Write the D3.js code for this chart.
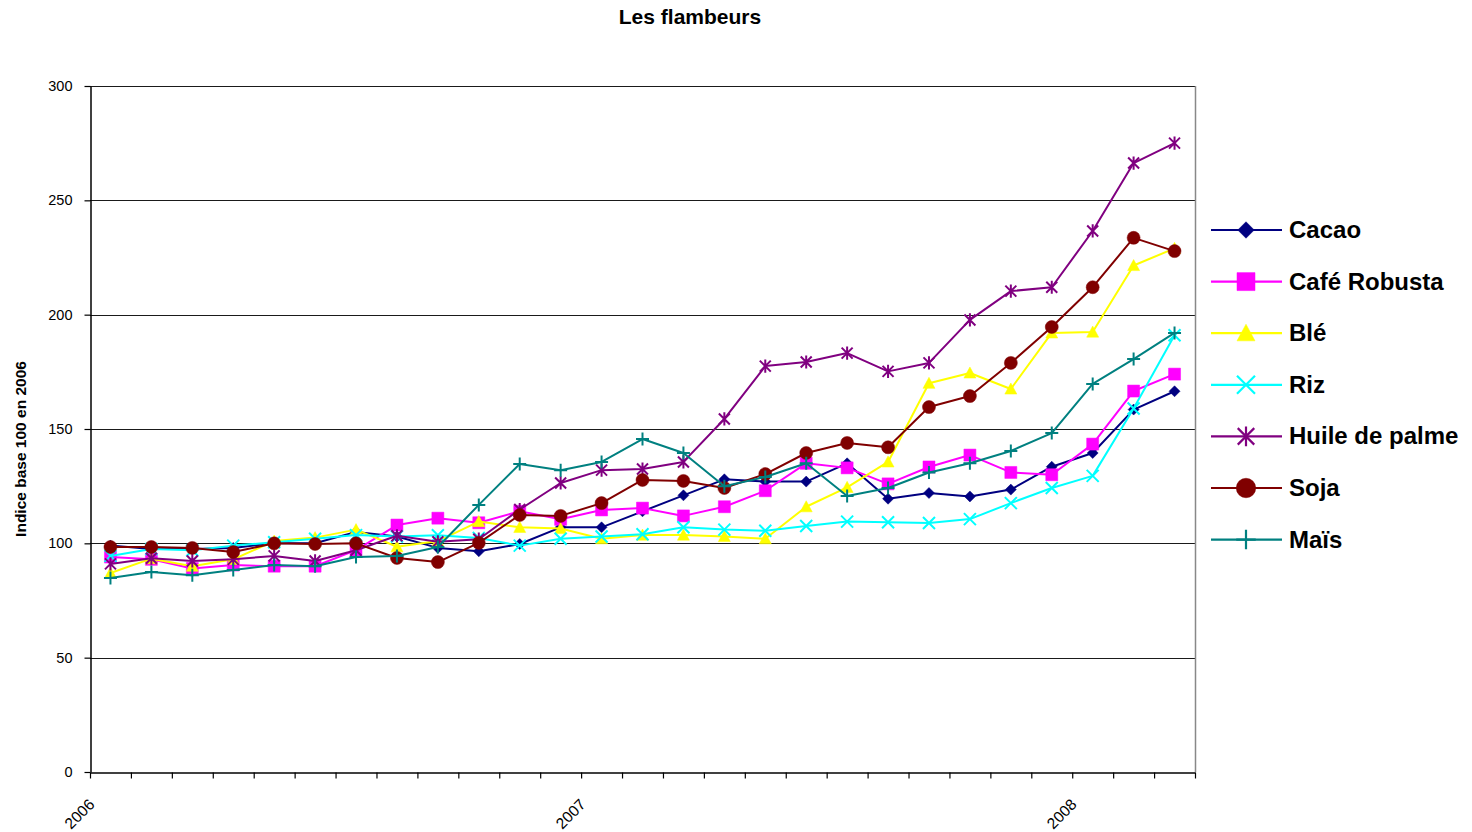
<!DOCTYPE html>
<html>
<head>
<meta charset="utf-8">
<script src="https://cdn.jsdelivr.net/npm/d3@7"></script>
<style>
  html, body { margin: 0; padding: 0; background: #fff; }
  svg { display: block; font-family: "Liberation Sans", Arial, sans-serif; }
</style>
</head>
<body>
<svg id="chart" width="1472" height="832"></svg>
<script>
// Monthly categories, January 2006 to March 2008
const months = [
  "2006-01","2006-02","2006-03","2006-04","2006-05","2006-06","2006-07","2006-08","2006-09","2006-10","2006-11","2006-12",
  "2007-01","2007-02","2007-03","2007-04","2007-05","2007-06","2007-07","2007-08","2007-09","2007-10","2007-11","2007-12",
  "2008-01","2008-02","2008-03"
];
const yearLabels = { 0: "2006", 12: "2007", 24: "2008" };
const yTicks = [0, 50, 100, 150, 200, 250, 300];

// Price index per commodity, base 100 in 2006
const cacao = [99, 97.5, 97.5, 98, 100, 100, 105, 103, 98, 96.5, 99.7, 107, 107, 114, 121, 128, 127, 127, 135, 119.5, 122, 120.5, 123.5, 133.5, 139.5, 158.5, 166.5];
const cafeRobusta = [94, 93, 89, 90.5, 90, 90, 97, 108, 111, 109, 114, 110.5, 114.6, 115.4, 112, 116, 123, 135, 133, 126, 133.4, 138.6, 131, 130, 143.4, 166.6, 174];
const ble = [87, 93.3, 90, 93, 101, 102.5, 106, 98.5, 101, 109.5, 107, 106.5, 102, 103.6, 103.6, 103, 102, 116, 124.5, 135.6, 170, 174.5, 167.5, 192, 192.4, 221.5, 229];
const riz = [94.5, 97.5, 97, 99, 100.5, 102, 103.6, 103, 103.5, 102.3, 99, 102, 103, 104, 107, 106, 105.5, 107.6, 109.5, 109.2, 108.9, 110.6, 117.6, 124.2, 129.5, 159, 191];
const huileDePalme = [91, 93.5, 92.3, 93, 94.5, 92.3, 97, 103.3, 100.7, 101.8, 114.8, 126.4, 132, 132.5, 135.6, 154.4, 177.5, 179.3, 183.2, 175.2, 178.9, 197.7, 210.3, 212, 236.6, 266.3, 275];
const soja = [98.4, 98.4, 98, 96.2, 100, 99.7, 100, 93.6, 91.8, 100.2, 112.4, 112, 117.6, 127.7, 127.3, 124.2, 130.3, 139.5, 143.9, 142, 159.6, 164.4, 178.9, 194.6, 212, 233.6, 227.8];
const mais = [84.8, 87.5, 86, 88.3, 90.5, 90, 94, 94.5, 98.4, 116.8, 134.7, 132, 135.6, 145.6, 139.5, 125, 129, 135, 120.7, 124.2, 131, 135, 140.4, 148.2, 169.7, 180.6, 192];

const seriesNames = ["Cacao", "Café Robusta", "Blé", "Riz", "Huile de palme", "Soja", "Maïs"];
const seriesValues = [cacao, cafeRobusta, ble, riz, huileDePalme, soja, mais];
const seriesColors = ["#000080", "#ff00ff", "#ffff00", "#00ffff", "#800080", "#800000", "#008080"];
const seriesMarkers = ["diamond", "square", "triangle", "cross", "star", "circle", "plus"];

const svg = d3.select("#chart");
const plot = { left: 90, right: 1195, top: 86, bottom: 772 };

// x: category boundaries on a linear index scale; points sit mid-category
const xb = d3.scaleLinear().domain([0, months.length]).range([plot.left, plot.right]);
const xc = i => xb(i + 0.5);
const y = d3.scaleLinear().domain([0, 300]).range([plot.bottom, plot.top]);

// horizontal gridlines
svg.append("g")
  .selectAll("line")
  .data(yTicks.filter(v => v > 0))
  .join("line")
  .attr("x1", plot.left).attr("x2", plot.right)
  .attr("y1", d => Math.round(y(d)) + 0.5).attr("y2", d => Math.round(y(d)) + 0.5)
  .attr("stroke", "#1a1a1a").attr("stroke-width", 1);

// right border of plot area
svg.append("line")
  .attr("x1", plot.right + 0.5).attr("x2", plot.right + 0.5)
  .attr("y1", plot.top).attr("y2", plot.bottom)
  .attr("stroke", "#888").attr("stroke-width", 1.5);

// y axis
const yAxis = svg.append("g")
  .attr("transform", `translate(${plot.left + 0.5},0)`)
  .call(d3.axisLeft(y).tickValues(yTicks).tickSize(6).tickPadding(12).tickSizeOuter(0));
yAxis.select(".domain").attr("stroke", "#000").attr("stroke-width", 1.5);
yAxis.selectAll(".tick line").attr("stroke", "#000").attr("stroke-width", 1.2);
yAxis.selectAll(".tick text").attr("font-size", 14.5).attr("fill", "#000")
  .attr("font-family", "Liberation Sans, Arial, sans-serif");

// x axis with tick marks at category boundaries
const xAxis = svg.append("g")
  .attr("transform", `translate(0,${plot.bottom + 0.5})`)
  .call(d3.axisBottom(xb).tickValues(d3.range(months.length + 1))
    .tickSize(6).tickSizeOuter(0).tickFormat(i => yearLabels[i] || ""));
xAxis.select(".domain").attr("stroke", "#000").attr("stroke-width", 1.5);
xAxis.selectAll(".tick line").attr("stroke", "#000").attr("stroke-width", 1.2);
xAxis.selectAll(".tick text")
  .attr("font-size", 15.5).attr("fill", "#000")
  .attr("font-family", "Liberation Sans, Arial, sans-serif")
  .attr("text-anchor", "end")
  .attr("dy", null).attr("y", null)
  .attr("transform", "translate(5,33) rotate(-45)");

// marker shapes
function markerPath(type, s) {
  const h = s / 2;
  switch (type) {
    case "diamond": return `M0,${-h}L${h},0L0,${h}L${-h},0Z`;
    case "square": return `M${-h},${-h}H${h}V${h}H${-h}Z`;
    case "triangle": return `M0,${-h}L${h},${h * 0.85}L${-h},${h * 0.85}Z`;
    case "circle": return d3.arc()({ innerRadius: 0, outerRadius: h, startAngle: 0, endAngle: 2 * Math.PI });
    case "cross": return `M${-h},${-h}L${h},${h}M${-h},${h}L${h},${-h}`;
    case "star": return `M${-h},${-h}L${h},${h}M${-h},${h}L${h},${-h}M0,${-h * 1.2}V${h * 1.2}`;
    case "plus": return `M${-h},0H${h}M0,${-h}V${h}`;
  }
}
const filled = t => ["diamond", "square", "triangle", "circle"].includes(t);
const markerSize = { diamond: 11, square: 12, triangle: 12, circle: 13, cross: 12, star: 11, plus: 13 };

const line = d3.line().x((d, i) => xc(i)).y(d => y(d));

seriesValues.forEach((vals, k) => {
  const g = svg.append("g");
  const col = seriesColors[k];
  const mk = seriesMarkers[k];
  g.append("path").datum(vals)
    .attr("d", line).attr("fill", "none")
    .attr("stroke", col).attr("stroke-width", 2).attr("stroke-linejoin", "round");
  g.selectAll("path.mk").data(vals).join("path")
    .attr("class", "mk")
    .attr("transform", (d, i) => `translate(${xc(i)},${y(d)})`)
    .attr("d", markerPath(mk, markerSize[mk]))
    .attr("fill", filled(mk) ? col : "none")
    .attr("stroke", col)
    .attr("stroke-width", filled(mk) ? 0.5 : 2);
});

// title
svg.append("text")
  .attr("x", 690).attr("y", 24)
  .attr("text-anchor", "middle")
  .attr("font-size", 21).attr("font-weight", "bold")
  .text("Les flambeurs");

// y axis title
svg.append("text")
  .attr("transform", "translate(26,449) rotate(-90)")
  .attr("text-anchor", "middle")
  .attr("font-size", 15.5).attr("font-weight", "bold")
  .text("Indice base 100 en 2006");

// legend
const legend = svg.append("g");
seriesNames.forEach((name, k) => {
  const ly = 230 + k * 51.6;
  const col = seriesColors[k];
  const mk = seriesMarkers[k];
  legend.append("line")
    .attr("x1", 1211).attr("x2", 1282).attr("y1", ly).attr("y2", ly)
    .attr("stroke", col).attr("stroke-width", 2.2);
  legend.append("path")
    .attr("transform", `translate(1246,${ly})`)
    .attr("d", markerPath(mk, markerSize[mk] * 1.5))
    .attr("fill", filled(mk) ? col : "none")
    .attr("stroke", col)
    .attr("stroke-width", filled(mk) ? 0.5 : 2.2);
  legend.append("text")
    .attr("x", 1289).attr("y", ly + 8)
    .attr("font-size", 24).attr("font-weight", "bold")
    .text(name);
});
</script>
</body>
</html>
